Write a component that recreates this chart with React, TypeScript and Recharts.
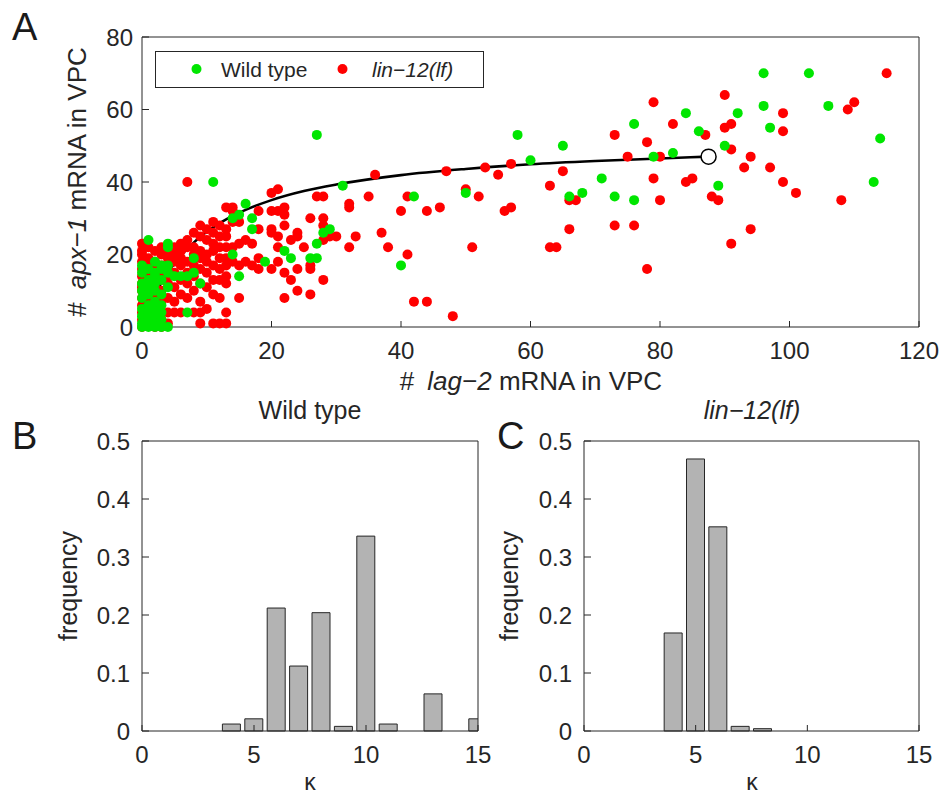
import React from 'react';
import { ComposedChart, Scatter, Line, XAxis, YAxis, BarChart, Bar } from 'recharts';

// ---------- Panel A data ----------
// lin-12(lf) points: [# lag-2 mRNA, # apx-1 mRNA]
const lin12Points: [number, number][] = [
  [115, 70], [90, 64], [79, 62], [109, 60], [110, 62], [99, 59], [82, 56], [90, 55], [91, 56], [99, 54],
  [87, 53], [73, 53], [78, 51], [91, 49], [80, 47], [75, 47], [94, 47], [57, 45], [53, 44], [93, 44],
  [97, 44], [65, 43], [55, 42], [79, 41], [84, 40], [85, 41], [99, 40], [63, 39], [101, 37], [50, 38],
  [52, 36], [66, 35], [67, 35], [80, 35], [88, 36], [89, 35], [108, 35], [56, 32], [57, 33], [66, 27],
  [73, 28], [76, 28], [94, 27], [51, 22], [63, 22], [64, 22], [91, 23], [78, 16],
  [36, 42], [47, 43], [35, 36], [41, 36], [40, 32], [44, 32], [46, 33], [37, 26], [33, 25], [38, 22],
  [41, 20], [42, 7], [44, 7], [48, 3], [32, 22], [32, 34], [32, 33],
  [20, 37], [21, 38], [27, 36], [28, 36], [26, 30], [28, 30], [28, 28], [22, 33], [22, 31], [21, 32],
  [20, 32], [20, 27], [21, 25], [20, 26], [22, 28], [23, 24], [24, 26], [24, 25], [25, 22], [21, 22],
  [26, 17], [26, 16], [28, 24], [29, 25], [30, 25], [22, 15], [24, 16], [23, 13], [28, 13], [24, 10],
  [26, 9], [22, 8],
  [14, 33], [14, 32], [13, 33], [18, 32], [15, 29], [14, 29], [13, 27], [18, 27], [16, 24], [15, 23],
  [14, 22], [13, 22], [17, 23], [18, 19], [16, 18], [17, 17], [15, 17], [14, 18], [21, 18], [18, 16],
  [20, 16], [13, 14], [13, 12], [15, 8], [13, 4], [13, 1], [13, 25], [13, 19], [13, 17],
  [0, 23], [0, 21], [0, 20], [0, 18], [0, 16], [0, 14], [0, 12], [0, 11], [0, 10], [0, 8], [0, 6], [0, 4], [0, 2], [0, 0],
  [1, 22], [1, 19], [1, 17], [1, 15], [1, 13], [1, 9], [1, 7], [1, 5], [1, 1],
  [2, 21], [2, 18], [2, 16], [2, 14], [2, 11], [2, 9], [2, 6], [2, 3], [2, 0],
  [3, 22], [3, 20], [3, 17], [3, 15], [3, 13], [3, 10], [3, 7], [3, 2], [3, 0],
  [4, 21], [4, 19], [4, 16], [4, 14], [4, 12], [4, 8], [4, 4], [4, 1],
  [5, 22], [5, 20], [5, 18], [5, 15], [5, 11], [5, 7], [5, 4],
  [6, 23], [6, 21], [6, 19], [6, 17], [6, 13], [6, 9], [6, 4],
  [7, 40], [7, 24], [7, 22], [7, 18], [7, 15], [7, 12], [7, 8],
  [8, 26], [8, 22], [8, 20], [8, 17], [8, 14], [8, 10], [8, 4],
  [9, 28], [9, 25], [9, 21], [9, 19], [9, 16], [9, 12], [9, 7], [9, 4], [9, 1],
  [10, 27], [10, 24], [10, 20], [10, 18], [10, 15], [10, 11], [10, 5],
  [11, 29], [11, 26], [11, 23], [11, 21], [11, 17], [11, 13], [11, 9], [11, 1],
  [12, 28], [12, 25], [12, 22], [12, 19], [12, 16], [12, 13], [12, 8], [12, 1],
];

// Wild type points: [# lag-2 mRNA, # apx-1 mRNA]
const wildTypePoints: [number, number][] = [
  [0, 17], [0, 15], [0, 12], [0, 10], [0, 8], [0, 5], [0, 3], [0, 1], [0, 0],
  [1, 24], [1, 16], [1, 13], [1, 11], [1, 9], [1, 6], [1, 4], [1, 2], [1, 0],
  [2, 18], [2, 15], [2, 14], [2, 12], [2, 10], [2, 7], [2, 5], [2, 3], [2, 1], [2, 0],
  [3, 17], [3, 16], [3, 13], [3, 9], [3, 6], [3, 4], [3, 2], [3, 0],
  [4, 23], [4, 22], [4, 17], [4, 15], [4, 11], [4, 0],
  [5, 14], [6, 14], [7, 14], [7, 4], [8, 19], [8, 15], [9, 12], [11, 40], [14, 20], [14, 30],
  [15, 31], [15, 14], [16, 34], [17, 30], [17, 27], [19, 18], [22, 21], [23, 19], [26, 19], [27, 19],
  [27, 23], [27, 53], [28, 26], [29, 27], [31, 39], [40, 17], [42, 36], [50, 37],
  [58, 53], [60, 46], [65, 50], [66, 36], [68, 37], [71, 41], [73, 36], [76, 56], [76, 35], [79, 47],
  [82, 48], [84, 59], [86, 54], [89, 39], [90, 50], [92, 59], [96, 70], [96, 61], [97, 55], [103, 70],
  [106, 61], [113, 40], [114, 52],
];

// Fitted curve
const curveLag2 = [0, 0.5, 1, 2, 3, 4, 5, 7, 10, 13, 16, 20, 25, 30, 40, 50, 60, 70, 80, 87.5];
const curveApx1 = [0, 2.5, 4.8, 8.8, 12.2, 15, 17.5, 21.6, 26.3, 29.7, 32.3, 35, 37.5, 39.3, 41.9, 43.6, 44.9, 45.8, 46.5, 47];
const curveEnd = { x: 87.5, y: 47 };

const xTicksA = [0, 20, 40, 60, 80, 100, 120];
const yTicksA = [0, 20, 40, 60, 80];

// ---------- Panels B, C data ----------
const kappaBins = [1, 2, 3, 4, 5, 6, 7, 8, 9, 10, 11, 12, 13, 14, 15];
const wildTypeFreq = [0, 0, 0, 0.012, 0.021, 0.212, 0.112, 0.204, 0.008, 0.336, 0.012, 0, 0.064, 0, 0.021];
const lin12Freq = [0, 0, 0, 0.169, 0.469, 0.352, 0.008, 0.004, 0, 0, 0, 0, 0, 0, 0];
const kappaTicks = [0, 5, 10, 15];
const freqTicks = [0, 0.1, 0.2, 0.3, 0.4, 0.5];

const AX = '#262626';
const FONT = "'Liberation Sans', Arial, Helvetica, sans-serif";
const RED = '#ff0000';
const GREEN = '#00e600';

const dotShape = (color: string) => (p: any) => <circle cx={p.cx} cy={p.cy} r={5} fill={color} />;
const endShape = (p: any) => <circle cx={p.cx} cy={p.cy} r={7.5} fill="#fff" stroke="#000" strokeWidth={1.5} />;

const tickStyle = { fill: AX, fontSize: 24, fontFamily: FONT };

function Histogram({ freq, width, marginLeft, marginRight }: { freq: number[]; width: number; marginLeft: number; marginRight: number }) {
  const data = kappaBins.map((k, i) => ({ k, f: freq[i] }));
  return (
    <BarChart width={width} height={396} data={data} margin={{ top: 40, right: marginRight, bottom: 35, left: marginLeft }}>
      <XAxis xAxisId="b" type="number" dataKey="k" domain={[0, 15]} ticks={kappaTicks} orientation="bottom" height={30}
        tickSize={-6} tickMargin={21} stroke={AX} tick={tickStyle} allowDataOverflow interval={0} />
      <XAxis xAxisId="t" type="number" dataKey="k" domain={[0, 15]} ticks={kappaTicks} orientation="top" height={1}
        tickSize={-6} stroke={AX} tick={false} allowDataOverflow interval={0} />
      <YAxis yAxisId="l" type="number" domain={[0, 0.5]} ticks={freqTicks} width={60} tickSize={-7} tickMargin={19}
        stroke={AX} tick={tickStyle} interval={0} />
      <YAxis yAxisId="r" orientation="right" type="number" domain={[0, 0.5]} ticks={freqTicks} width={1} tickSize={-7}
        stroke={AX} tick={false} interval={0} />
      <Bar xAxisId="b" yAxisId="l" dataKey="f" barSize={18} fill="#b3b3b3" stroke={AX} strokeWidth={1} isAnimationActive={false} />
    </BarChart>
  );
}

export default function App() {
  const lfData = lin12Points.map(([x, y]) => ({ x, y }));
  const wtData = wildTypePoints.map(([x, y]) => ({ x, y }));
  const curve = curveLag2.map((x, i) => ({ x, y: curveApx1[i] }));

  return (
    <div style={{ position: 'absolute', left: 0, top: 0, width: 944, height: 796, background: '#fff', fontFamily: FONT }}>
      <div style={{ position: 'absolute', left: 0, top: 0 }}>
        <ComposedChart width={944} height={400} margin={{ top: 36, right: 24, bottom: 43, left: 82 }}>
          <XAxis xAxisId="b" type="number" dataKey="x" domain={[0, 120]} ticks={xTicksA} orientation="bottom" height={30}
            tickSize={-6} tickMargin={21} stroke={AX} tick={tickStyle} interval={0} />
          <XAxis xAxisId="t" type="number" dataKey="x" domain={[0, 120]} ticks={xTicksA} orientation="top" height={1}
            tickSize={-6} stroke={AX} tick={false} interval={0} />
          <YAxis yAxisId="l" type="number" dataKey="y" domain={[0, 80]} ticks={yTicksA} width={60} tickSize={-7} tickMargin={16}
            stroke={AX} tick={tickStyle} interval={0} />
          <YAxis yAxisId="r" orientation="right" type="number" dataKey="y" domain={[0, 80]} ticks={yTicksA} width={1} tickSize={-7}
            stroke={AX} tick={false} interval={0} />
          <Scatter name="lin-12(lf)" xAxisId="b" yAxisId="l" data={lfData} fill={RED} shape={dotShape(RED)} isAnimationActive={false} />
          <Scatter name="Wild type" xAxisId="b" yAxisId="l" data={wtData} fill={GREEN} shape={dotShape(GREEN)} isAnimationActive={false} />
          <Line xAxisId="b" yAxisId="l" data={curve} dataKey="y" type="monotone" stroke="#000" strokeWidth={2.6} dot={false} isAnimationActive={false} />
          <Scatter xAxisId="b" yAxisId="l" data={[curveEnd]} fill="#fff" shape={endShape} isAnimationActive={false} />
        </ComposedChart>
      </div>
      <div style={{ position: 'absolute', left: 0, top: 400 }}>
        <Histogram freq={wildTypeFreq} width={500} marginLeft={82} marginRight={21} />
      </div>
      <div style={{ position: 'absolute', left: 480, top: 400 }}>
        <Histogram freq={lin12Freq} width={464} marginLeft={44} marginRight={24} />
      </div>
      <svg width={944} height={796} style={{ position: 'absolute', left: 0, top: 0, pointerEvents: 'none' }}
        fontFamily={FONT} fill={AX}>
        {/* panel letters */}
        <text x={12} y={40} fontSize={38} fill="#1a1a1a">A</text>
        <text x={12} y={449} fontSize={38} fill="#1a1a1a">B</text>
        <text x={497} y={449} fontSize={38} fill="#1a1a1a">C</text>
        {/* legend */}
        <rect x={155.5} y={51.5} width={328} height={36} fill="#fff" stroke={AX} strokeWidth={1} />
        <circle cx={196.5} cy={69} r={5} fill={GREEN} />
        <text x={221} y={77} fontSize={21}>Wild type</text>
        <circle cx={342.5} cy={69} r={5} fill={RED} />
        <text x={372} y={77} fontSize={21} fontStyle="italic">lin−12(lf)</text>
        {/* axis labels panel A */}
        <text x={531} y={390} fontSize={26} textAnchor="middle">
          <tspan>#</tspan>
          <tspan dx={13} fontStyle="italic">lag−2</tspan>
          <tspan> mRNA in VPC</tspan>
        </text>
        <text transform="translate(86,182) rotate(-90)" fontSize={26} textAnchor="middle">
          <tspan>#</tspan>
          <tspan dx={13} fontStyle="italic">apx−1</tspan>
          <tspan> mRNA in VPC</tspan>
        </text>
        {/* titles */}
        <text x={310} y={419} fontSize={25} textAnchor="middle">Wild type</text>
        <text x={752} y={419} fontSize={25} textAnchor="middle" fontStyle="italic">lin−12(lf)</text>
        {/* histogram labels */}
        <text transform="translate(77,586) rotate(-90)" fontSize={25} textAnchor="middle">frequency</text>
        <text transform="translate(518,586) rotate(-90)" fontSize={25} textAnchor="middle">frequency</text>
        <text x={310} y={790} fontSize={23} textAnchor="middle">κ</text>
        <text x={752} y={790} fontSize={23} textAnchor="middle">κ</text>
      </svg>
    </div>
  );
}
